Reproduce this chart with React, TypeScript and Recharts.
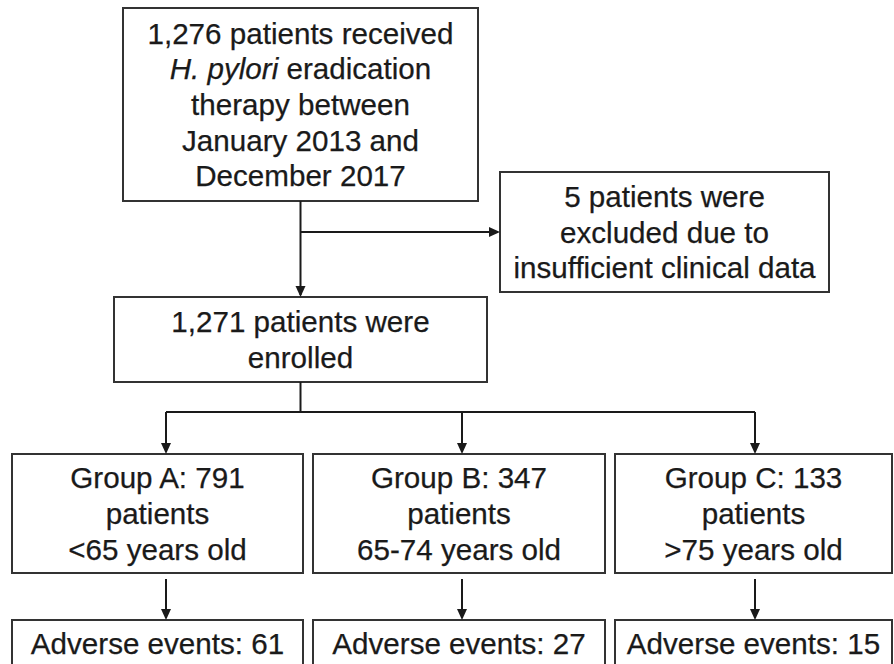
import React from 'react';
import { ComposedChart, XAxis, YAxis, ReferenceArea, ReferenceLine, Scatter } from 'recharts';

// flow counts
const totalTreated = 1276;
const excludedCount = 5;
const enrolledCount = 1271;
const groupNames = ['A', 'B', 'C'];
const groupCounts = [791, 347, 133];
const ageBands = ['<65 years old', '65-74 years old', '>75 years old'];
const adverseEvents = [61, 27, 15];

const W = 894;
const H = 664;
const FONT = '"Liberation Sans", Arial, Helvetica, sans-serif';
const INK = '#1a1a1a';
const EDGE = '#333';

type Seg = { t: string; italic?: boolean };
type Line = Seg[];

const fmt = (n: number) => n.toLocaleString('en-US');

// layout of the boxes (chart units = pixels, y downwards)
const topBox = { x1: 123, x2: 478, y1: 8, y2: 201 };
const exclBox = { x1: 500, x2: 829, y1: 172, y2: 292 };
const enrolBox = { x1: 114, x2: 487, y1: 297, y2: 382 };
const groupCols = [
  { x1: 12, x2: 303, arrow: 166 },
  { x1: 313, x2: 605, arrow: 462 },
  { x1: 615, x2: 892, arrow: 755 },
];
const groupRow = { y1: 454, y2: 573 };
const aeRow = { y1: 620, y2: 666 };
const splitY = 232;
const branchY = 412;

const topLines: Line[] = [
  [{ t: `${fmt(totalTreated)} patients received` }],
  [{ t: 'H. pylori', italic: true }, { t: ' eradication' }],
  [{ t: 'therapy between' }],
  [{ t: 'January 2013 and' }],
  [{ t: 'December 2017' }],
];
const exclLines: Line[] = [
  [{ t: `${excludedCount} patients were` }],
  [{ t: 'excluded due to' }],
  [{ t: 'insufficient clinical data' }],
];
const enrolLines: Line[] = [[{ t: `${fmt(enrolledCount)} patients were` }], [{ t: 'enrolled' }]];

const BoxText = ({ viewBox, lines }: any) => {
  if (!viewBox) return null;
  const { x, y, width, height } = viewBox;
  const cx = x + width / 2;
  const cy = y + height / 2;
  const lh = 35.7;
  return (
    <text
      textAnchor="middle"
      fontFamily={FONT}
      fontSize={29.6}
      fill={INK}
      stroke={INK}
      strokeWidth={0.25}
      style={{ whiteSpace: 'pre' }}
    >
      {lines.map((ln: Line, i: number) => (
        <tspan key={i} x={cx} y={cy + 10.5 + (i - (lines.length - 1) / 2) * lh}>
          {ln.map((s, j) => (
            <tspan key={j} fontStyle={s.italic ? 'italic' : 'normal'}>
              {s.t}
            </tspan>
          ))}
        </tspan>
      ))}
    </text>
  );
};

const Box = (b: { x1: number; x2: number; y1: number; y2: number }, lines: Line[], key: string) => (
  <ReferenceArea
    key={key}
    x1={b.x1}
    x2={b.x2}
    y1={b.y1}
    y2={b.y2}
    fill="#fff"
    fillOpacity={1}
    stroke={EDGE}
    strokeWidth={2}
    ifOverflow="visible"
    label={(p: any) => <BoxText viewBox={p.viewBox} lines={lines} />}
  />
);

const Arrowhead = (props: any) => {
  const { cx, cy, payload } = props;
  if (cx == null || cy == null) return null;
  if (payload.dir === 'right') {
    return <polygon points={`${cx},${cy} ${cx - 11},${cy - 5} ${cx - 11},${cy + 5}`} fill={INK} />;
  }
  return <polygon points={`${cx},${cy} ${cx - 5},${cy - 11} ${cx + 5},${cy - 11}`} fill={INK} />;
};

const mid = (topBox.x1 + topBox.x2) / 2;

const connectors = [
  [mid, topBox.y2, mid, enrolBox.y1 - 2],
  [mid, splitY, exclBox.x1 - 2, splitY],
  [mid, enrolBox.y2, mid, branchY],
  [groupCols[0].arrow, branchY, groupCols[2].arrow, branchY],
  ...groupCols.map((c) => [c.arrow, branchY, c.arrow, groupRow.y1 - 2]),
  ...groupCols.map((c) => [c.arrow, groupRow.y2 + 6, c.arrow, aeRow.y1 - 2]),
];

const arrowTips = [
  { x: mid, y: enrolBox.y1, dir: 'down' },
  { x: exclBox.x1, y: splitY, dir: 'right' },
  ...groupCols.map((c) => ({ x: c.arrow, y: groupRow.y1, dir: 'down' })),
  ...groupCols.map((c) => ({ x: c.arrow, y: aeRow.y1, dir: 'down' })),
];

export default function App() {
  return (
    <div style={{ position: 'absolute', left: 0, top: 0, width: W, height: H, background: '#fff' }}>
      <ComposedChart width={W} height={H} margin={{ top: 0, right: 0, bottom: 0, left: 0 }}>
        <XAxis type="number" dataKey="x" domain={[0, W]} hide allowDataOverflow />
        <YAxis type="number" dataKey="y" domain={[0, H]} reversed hide allowDataOverflow />
        {connectors.map((c, i) => (
          <ReferenceLine
            key={`c${i}`}
            segment={[
              { x: c[0], y: c[1] },
              { x: c[2], y: c[3] },
            ]}
            stroke={INK}
            strokeWidth={2}
            ifOverflow="visible"
          />
        ))}
        {Box(topBox, topLines, 'top')}
        {Box(exclBox, exclLines, 'excl')}
        {Box(enrolBox, enrolLines, 'enrol')}
        {groupCols.map((c, i) =>
          Box(
            { x1: c.x1, x2: c.x2, y1: groupRow.y1, y2: groupRow.y2 },
            [[{ t: `Group ${groupNames[i]}: ${groupCounts[i]}` }], [{ t: 'patients' }], [{ t: ageBands[i] }]],
            `g${i}`
          )
        )}
        {groupCols.map((c, i) =>
          Box(
            { x1: c.x1, x2: c.x2, y1: aeRow.y1, y2: aeRow.y2 },
            [[{ t: `Adverse events: ${adverseEvents[i]}` }]],
            `ae${i}`
          )
        )}
        <Scatter data={arrowTips} dataKey="y" shape={<Arrowhead />} isAnimationActive={false} />
      </ComposedChart>
    </div>
  );
}
